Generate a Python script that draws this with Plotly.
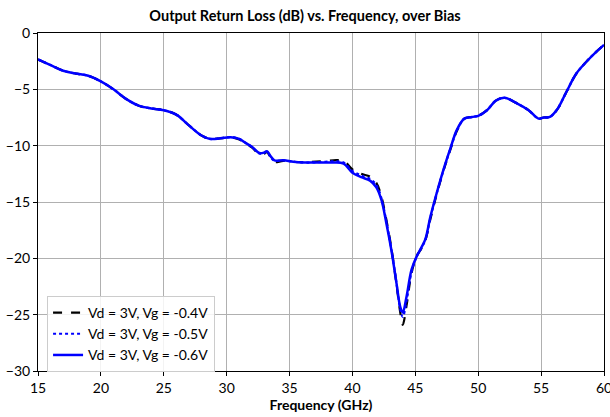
import plotly.graph_objects as go

# Frequency grid (GHz) shared by all three bias conditions
freq_ghz = [15, 16, 17, 18, 19, 20, 21, 22, 23, 24, 25, 26, 27, 28, 28.7, 29.5,
            30.3, 31, 31.5, 32, 32.6, 33.0, 33.2, 33.5, 33.8, 34.5, 35.5, 36.5,
            37.5, 38.5, 39.3, 40, 40.7, 41.4, 41.9, 42.3, 42.7, 43.1, 43.5, 43.8,
            44.0, 44.3, 44.7, 45.1, 45.5, 45.8, 46.2, 46.7, 47.3, 47.8, 48.3,
            48.9, 49.5, 50.0, 50.7, 51.4, 52.1, 53.0, 54.0, 54.8, 55.2, 55.7,
            56.3, 57.0, 57.8, 58.6, 59.4, 60]

# Output return loss (dB), Vd = 3 V, Vg = -0.4 V
s22_vg_04 = [-2.35, -2.85, -3.35, -3.6, -3.8, -4.3, -5.0, -5.85, -6.45, -6.7,
             -6.85, -7.25, -8.2, -9.1, -9.4, -9.35, -9.25, -9.45, -9.8, -10.15,
             -10.75, -10.7, -10.55, -11.05, -11.45, -11.35, -11.45, -11.45,
             -11.4, -11.3, -11.35, -12.1, -12.5, -12.75, -13.3, -14.5, -16.6,
             -19.1, -22.3, -24.8, -25.9, -24.2, -21.3, -19.8, -19.1, -18.4,
             -16.5, -14.3, -12.0, -10.3, -8.7, -7.6, -7.45, -7.35, -6.85, -6.0,
             -5.75, -6.2, -6.85, -7.6, -7.5, -7.45, -6.75, -5.25, -3.6, -2.55,
             -1.65, -1.05]

# Output return loss (dB), Vd = 3 V, Vg = -0.5 V
s22_vg_05 = [-2.35, -2.85, -3.35, -3.6, -3.8, -4.3, -5.0, -5.85, -6.45, -6.7,
             -6.85, -7.25, -8.2, -9.1, -9.4, -9.35, -9.25, -9.4, -9.75, -10.1,
             -10.7, -10.65, -10.5, -11.0, -11.35, -11.3, -11.45, -11.5, -11.45,
             -11.4, -11.5, -12.25, -12.65, -12.95, -13.5, -14.65, -16.75,
             -19.2, -22.2, -24.5, -25.2, -23.8, -21.2, -19.85, -19.05, -18.35,
             -16.4, -14.25, -11.95, -10.25, -8.65, -7.6, -7.45, -7.35, -6.85,
             -6.0, -5.75, -6.2, -6.85, -7.6, -7.5, -7.45, -6.75, -5.25, -3.6,
             -2.55, -1.65, -1.05]

# Output return loss (dB), Vd = 3 V, Vg = -0.6 V
s22_vg_06 = [-2.35, -2.85, -3.35, -3.6, -3.8, -4.3, -5.0, -5.85, -6.45, -6.7,
             -6.85, -7.25, -8.2, -9.1, -9.4, -9.35, -9.25, -9.4, -9.75, -10.1,
             -10.65, -10.6, -10.5, -10.95, -11.3, -11.3, -11.45, -11.5, -11.5,
             -11.5, -11.6, -12.4, -12.8, -13.1, -13.7, -14.8, -16.9, -19.3,
             -22.2, -24.3, -24.8, -23.4, -21.0, -19.85, -19.0, -18.3, -16.3,
             -14.2, -11.9, -10.2, -8.6, -7.6, -7.45, -7.35, -6.85, -6.0, -5.75,
             -6.2, -6.85, -7.6, -7.5, -7.45, -6.75, -5.25, -3.6, -2.55, -1.65,
             -1.05]

series_names = ["Vd = 3V, Vg = -0.4V", "Vd = 3V, Vg = -0.5V", "Vd = 3V, Vg = -0.6V"]

x_ticks = [15, 20, 25, 30, 35, 40, 45, 50, 55, 60]
y_ticks = [0, -5, -10, -15, -20, -25, -30]
y_tick_text = ["0", "\u22125", "\u221210", "\u221215", "\u221220", "\u221225", "\u221230"]

FONT = "Lato, 'Open Sans', sans-serif"

fig = go.Figure()
fig.add_trace(go.Scatter(x=freq_ghz, y=s22_vg_04, mode="lines", name=series_names[0],
                         line=dict(color="black", width=2.2, dash="dash", shape="spline")))
fig.add_trace(go.Scatter(x=freq_ghz, y=s22_vg_05, mode="lines", name=series_names[1],
                         line=dict(color="blue", width=2.2, dash="dot", shape="spline")))
fig.add_trace(go.Scatter(x=freq_ghz, y=s22_vg_06, mode="lines", name=series_names[2],
                         line=dict(color="blue", width=2.5, shape="spline")))

axis_common = dict(showgrid=True, gridcolor="#b0b0b0", gridwidth=1,
                   showline=True, linecolor="black", linewidth=1, mirror=True,
                   ticks="outside", ticklen=4, tickcolor="black",
                   zeroline=False, ticklabeloverflow="allow", automargin=False,
                   tickfont=dict(family=FONT, size=14, color="black"))

fig.update_layout(
    width=610, height=417,
    margin=dict(l=38, r=6, t=33, b=46),
    paper_bgcolor="white", plot_bgcolor="white",
    font=dict(family=FONT, color="black"),
    title=dict(text="<b>Output Return Loss (dB) vs. Frequency, over Bias</b>",
               x=0.5, xanchor="center", y=0.962, yanchor="middle",
               font=dict(family=FONT, size=14.5)),
    xaxis=dict(range=[15, 60], tickvals=x_ticks,
               title=dict(text="<b>Frequency (GHz)</b>", font=dict(family=FONT, size=14), standoff=2),
               **axis_common),
    yaxis=dict(range=[-30, 0], tickvals=y_ticks, ticktext=y_tick_text, **axis_common),
    legend=dict(x=0.016, y=0.222, xanchor="left", yanchor="top",
                bgcolor="rgba(255,255,255,0.85)", bordercolor="#cccccc", borderwidth=1,
                font=dict(family=FONT, size=14), tracegroupgap=0),
    showlegend=True,
)

fig.write_html("out.html")
